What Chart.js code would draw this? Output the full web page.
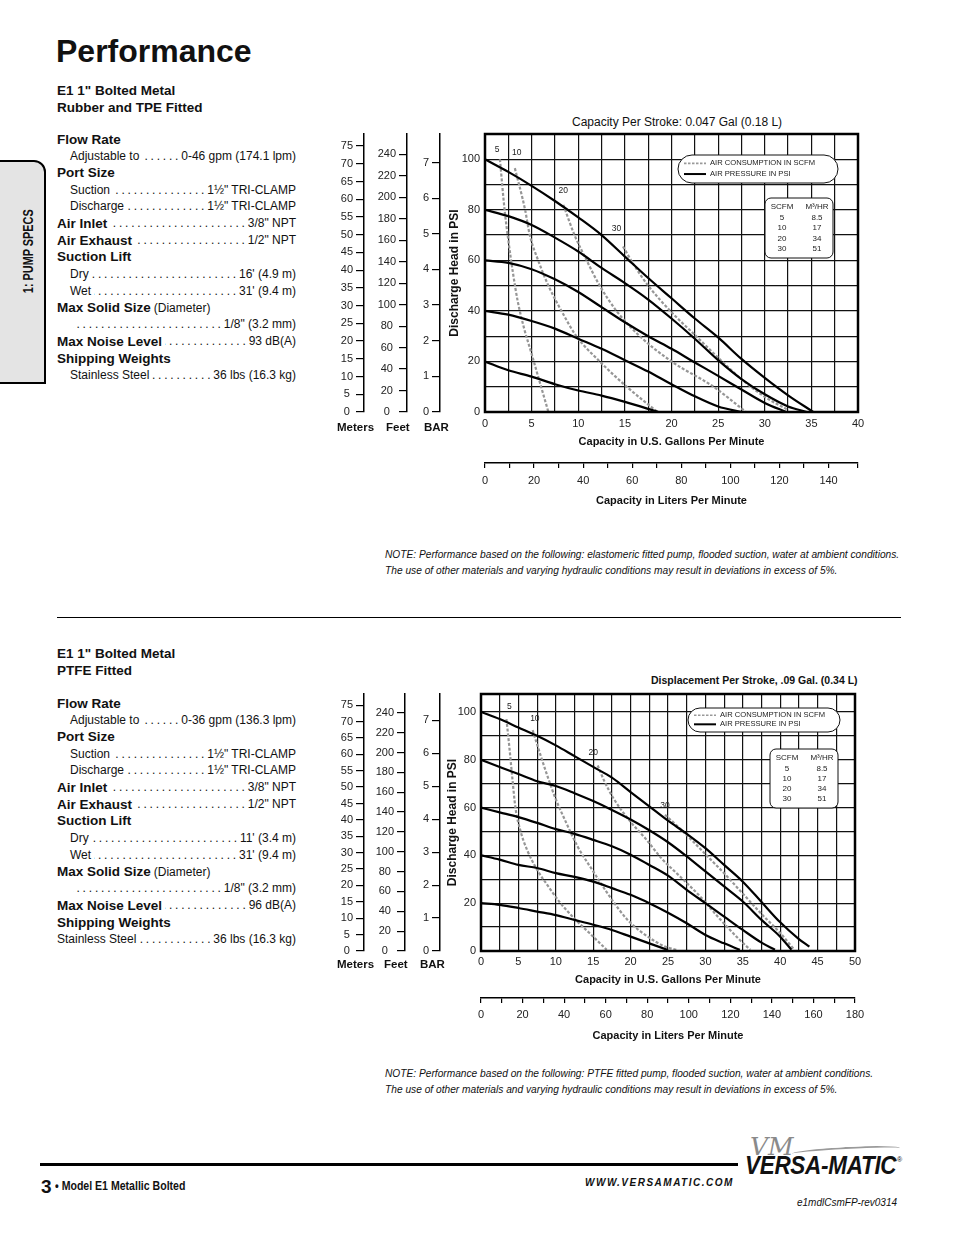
<!DOCTYPE html>
<html>
<head>
<meta charset="utf-8">
<script src="https://cdn.jsdelivr.net/npm/chart.js@4.4.1/dist/chart.umd.min.js"></script>
<style>
  body { margin: 0; background: #fff; font-family: "Liberation Sans", Arial, sans-serif; color: #111; }
  #page { position: relative; width: 954px; height: 1235px; overflow: hidden; background: #fff; }
  .t { position: absolute; white-space: nowrap; line-height: 1; }
  .b { font-weight: bold; }
  .row { position: absolute; display: flex; align-items: center; height: 17px; font-size: 12px; white-space: nowrap; }
  .row .lab { font-size: 12px; }
  .row .hd { font-size: 13.5px; font-weight: bold; }
  .row .sfx { font-size: 12px; margin-left: 3px; }
  .row .lead { flex: 1; overflow: hidden; direction: rtl; text-align: right; letter-spacing: 2.8px; font-size: 12px; margin-left: 3px; }
  .note { position: absolute; left: 385px; font-size: 10.2px; font-style: italic; white-space: nowrap; line-height: 16px; }
  canvas { position: absolute; }
</style>
</head>
<body>
<div id="page">
  <div class="t b" style="left:56px;top:35px;font-size:32px;">Performance</div>

  <div style="position:absolute;left:-4px;top:160px;width:46px;height:220px;border:2px solid #000;border-radius:0 12px 0 0;background:#e4e4e4;"></div>
  <div class="t b" style="left:-32px;top:244px;width:120px;text-align:center;font-size:14.5px;transform:rotate(-90deg) scaleX(0.75);">1: PUMP SPECS</div>

  <div class="t b" style="left:57px;top:82px;font-size:13.5px;line-height:17px;">E1 1" Bolted Metal<br>Rubber and TPE Fitted</div>
  <div id="specs1"></div>

  <div class="t" style="left:572px;top:116px;font-size:12px;">Capacity Per Stroke: 0.047 Gal (0.18 L)</div>
  <canvas id="c1" width="540" height="400" style="left:330px;top:112px;"></canvas>
  <div class="t b" style="left:337px;top:422px;font-size:11.5px;">Meters</div>
  <div class="t b" style="left:386px;top:422px;font-size:11.5px;">Feet</div>
  <div class="t b" style="left:424px;top:422px;font-size:11.5px;">BAR</div>

  <div class="note" style="top:547px;">NOTE: Performance based on the following: elastomeric fitted pump, flooded suction, water at ambient conditions.<br>The use of other materials and varying hydraulic conditions may result in deviations in excess of 5%.</div>

  <div style="position:absolute;left:57px;top:617px;width:844px;height:1px;background:#000;"></div>

  <div class="t b" style="left:57px;top:645px;font-size:13.5px;line-height:17px;">E1 1" Bolted Metal<br>PTFE Fitted</div>
  <div id="specs2"></div>

  <div class="t b" style="left:651px;top:675px;font-size:10.5px;">Displacement Per Stroke, .09 Gal. (0.34 L)</div>
  <canvas id="c2" width="540" height="375" style="left:330px;top:672px;"></canvas>
  <div class="t b" style="left:337px;top:959px;font-size:11.5px;">Meters</div>
  <div class="t b" style="left:384px;top:959px;font-size:11.5px;">Feet</div>
  <div class="t b" style="left:420px;top:959px;font-size:11.5px;">BAR</div>

  <div class="note" style="top:1066px;">NOTE: Performance based on the following: PTFE fitted pump, flooded suction, water at ambient conditions.<br>The use of other materials and varying hydraulic conditions may result in deviations in excess of 5%.</div>

  <div style="position:absolute;left:40px;top:1163px;width:698px;height:3px;background:#000;"></div>
  <div class="t b" style="left:41px;top:1177px;font-size:19px;">3</div>
  <div class="t b" style="left:55px;top:1180px;font-size:12px;transform:scaleX(0.88);transform-origin:left;">• Model E1 Metallic Bolted</div>
  <div class="t b" style="left:585px;top:1178px;font-size:10px;font-style:italic;letter-spacing:1.5px;">WWW.VERSAMATIC.COM</div>
  <div class="t" style="left:750px;top:1134px;font-size:25px;font-style:italic;color:#8a8a8a;font-family:'DejaVu Serif',serif;">VM</div>
  <div style="position:absolute;left:792px;top:1147px;width:108px;height:6px;border-top:2px solid #9a9a9a;border-radius:60% 60% 0 0;transform:rotate(-3deg);"></div>
  <div class="t b" style="left:745px;top:1153px;font-size:22.5px;font-style:italic;transform:scaleY(1.15);transform-origin:top;letter-spacing:-0.3px;">VERSA-MATIC</div>
  <div class="t" style="left:897px;top:1156px;font-size:7px;">®</div>
  <div class="t" style="left:797px;top:1198px;font-size:10px;font-style:italic;">e1mdlCsmFP-rev0314</div>
</div>

<script>
// ---- chart 1: rubber / TPE fitted  [gpm, psi]
const psi100A = [[0,100],[2.5,95],[5,89.5],[7.5,83.5],[10,77],[12.5,70],[15,61.5],[17.5,53],[20,45],[22.5,37],[25,29.5],[27.5,21],[30,13.5],[32.5,6.6],[35.2,0]];
const psi80A  = [[0,80],[2.5,77.5],[5,74],[7.5,69],[10,63.5],[12.5,57],[15,51],[17.5,44.5],[20,37],[22.5,29],[25,20.5],[27.5,13],[30,7],[32.5,2.2],[34.5,0]];
const psi60A  = [[0,60],[2.5,59],[5,56.5],[7.5,52.5],[10,47.5],[12.5,41.5],[15,35.5],[17.5,30],[20,25],[22.5,19.6],[25,14.3],[27.5,8.9],[30,3.6],[32.3,0]];
const psi40A  = [[0,40],[2.5,38.5],[5,36],[7.5,33],[10,29],[12.5,25],[15,20.5],[17.5,16],[20,11],[22.5,6.2],[25,2.2],[27.5,0]];
const psi20A  = [[0,20],[2.5,16.5],[5,14],[7.5,11],[10,8.5],[12.5,6.5],[15,4],[18.6,0]];
const scfm5A  = [[1.6,100],[2.1,80],[2.5,68],[3,55],[3.5,44],[4.2,33],[5,23],[5.7,14],[6.8,0]];
const scfm10A = [[3.2,96.5],[4.3,80],[4.8,70],[5.7,60],[6.8,50],[8.2,40],[9.8,30],[12.3,20],[15.2,10],[18.5,0]];
const scfm20A = [[8.4,82],[9.6,70],[10.9,60],[12.3,50],[14.1,40],[16.6,30],[20,20],[24.5,10],[28,0]];
const scfm30A = [[14.8,65.5],[16,58],[17.5,50],[20,39.5],[22.5,30.5],[25,21.5],[27.5,13],[30,6],[32.5,0.8]];
const scfmTagsA = [['5',1.3,103.7],['10',3.4,102.5],['20',8.4,87.5],['30',14.1,72.4]];

// ---- chart 2: PTFE fitted  [gpm, psi]
const psi100B = [[0,100],[2.5,97],[5,93.5],[7.5,90],[10,86],[12.5,81.5],[15,77],[17.5,72.5],[20,66.5],[22.5,60.5],[25,54.5],[27.5,49],[30,43],[32.5,36],[35,29],[37.5,20.5],[40,12],[42.5,5],[43.9,1.8]];
const psi80B  = [[0,80],[2.5,77],[5,74],[7.5,71],[10,69],[12.5,66],[15,62.7],[17.5,59],[20,55],[22.5,50.5],[25,45.5],[27.5,39.6],[30,33.3],[32.5,27],[35,20.7],[37.5,13],[40,6],[41.5,0.5]];
const psi60B  = [[0,60],[2.5,58],[5,56],[7.5,53.6],[10,51],[12.5,49],[15,46.5],[17.5,43.8],[20,40.3],[22.5,36],[25,31.5],[27.5,25.6],[30,20],[32.5,14.4],[35,8.8],[37.5,3.5],[39.3,0.5]];
const psi40B  = [[0,40],[2.5,38.2],[5,36],[7.5,34.7],[10,32.6],[12.5,31],[15,29],[17.5,26.3],[20,23.5],[22.5,20],[25,16],[27.5,11.6],[30,6.7],[32.5,3.2],[34.6,0.5]];
const psi20B  = [[0,20],[2.5,19.3],[5,18],[7.5,16.5],[10,15],[12.5,13],[15,11],[17.5,8.8],[20,6],[22.5,3.2],[25,0.4]];
const scfm5B  = [[3.4,97],[3.8,85],[4.2,72],[4.6,60],[5.3,50],[6.2,42],[7.5,34],[9,27],[10.5,20.5],[12.5,13.5],[14.5,7.5],[16.8,0.5]];
const scfm10B = [[6.9,92.4],[8,81.5],[8.9,73],[10,63.5],[11.4,53.6],[12.9,43.8],[15,33.3],[17.2,22.8],[19.6,13],[22.3,6],[24.5,2],[26.3,0.3]];
const scfm20B = [[15.6,77.6],[16.5,71],[17.8,63.4],[20,54],[22,47],[24.2,38.5],[26.6,31.2],[29.3,22.8],[31.9,13.5],[34.6,4.6],[36,0.5]];
const scfm30B = [[24.6,57],[26,53],[27.5,48.5],[30,40.5],[32.5,32.5],[35,24],[37.5,15.5],[40,7.5],[41.9,0.5]];
const scfmTagsB = [['5',3.8,102.2],['10',7.2,97],['20',15,83],['30',24.6,61]];

// tick labels
const psiLabels = [0,20,40,60,80,100];
const gpmLabelsA = [0,5,10,15,20,25,30,35,40];
const gpmLabelsB = [0,5,10,15,20,25,30,35,40,45,50];
const lpmLabelsA = [0,20,40,60,80,100,120,140];
const lpmLabelsB = [0,20,40,60,80,100,120,140,160,180];
const meterLabels = [0,5,10,15,20,25,30,35,40,45,50,55,60,65,70,75];
const feetLabels = [0,20,40,60,80,100,120,140,160,180,200,220,240];
const barLabels = [0,1,2,3,4,5,6,7];

// air table
const scfmCol = ['5','10','20','30'];
const m3hrCol = ['8.5','17','34','51'];

// spec sheet rows
const specs1 = [
  ['h','Flow Rate'], ['i','Adjustable to','0-46 gpm (174.1 lpm)'], ['h','Port Size'],
  ['i','Suction','1½" TRI-CLAMP'], ['i','Discharge','1½" TRI-CLAMP'], ['b','Air Inlet','3/8" NPT'],
  ['b','Air Exhaust','1/2" NPT'], ['h','Suction Lift'], ['i','Dry',"16' (4.9 m)"], ['i','Wet',"31' (9.4 m)"],
  ['hs','Max Solid Size','(Diameter)'], ['i','','1/8" (3.2 mm)'], ['b','Max Noise Level','93 dB(A)'],
  ['h','Shipping Weights'], ['i','Stainless Steel','36 lbs (16.3 kg)']
];
const specs2 = [
  ['h','Flow Rate'], ['i','Adjustable to','0-36 gpm (136.3 lpm)'], ['h','Port Size'],
  ['i','Suction','1½" TRI-CLAMP'], ['i','Discharge','1½" TRI-CLAMP'], ['b','Air Inlet','3/8" NPT'],
  ['b','Air Exhaust','1/2" NPT'], ['h','Suction Lift'], ['i','Dry',"11' (3.4 m)"], ['i','Wet',"31' (9.4 m)"],
  ['hs','Max Solid Size','(Diameter)'], ['i','','1/8" (3.2 mm)'], ['b','Max Noise Level','96 dB(A)'],
  ['h','Shipping Weights'], ['f','Stainless Steel','36 lbs (16.3 kg)']
];

function buildSpecs(id, rows, y0) {
  const box = document.getElementById(id);
  const dots = '.'.repeat(70);
  rows.forEach((r, i) => {
    const d = document.createElement('div');
    d.className = 'row';
    d.style.top = (y0 + i * 16.85 - 8.5) + 'px';
    const indent = (r[0] === 'i') ? 13 : 0;
    d.style.left = (57 + indent) + 'px';
    d.style.width = (239 - indent) + 'px';
    if (r[0] === 'h') d.innerHTML = '<span class="hd">' + r[1] + '</span>';
    else if (r[0] === 'hs') d.innerHTML = '<span class="hd">' + r[1] + '</span><span class="sfx">' + r[2] + '</span>';
    else {
      const cls = r[0] === 'b' ? 'hd' : 'lab';
      d.innerHTML = '<span class="' + cls + '">' + r[1] + '</span><span class="lead">' + dots + '</span><span class="lab">' + r[2] + '</span>';
    }
    box.appendChild(d);
  });
}
buildSpecs('specs1', specs1, 139);
buildSpecs('specs2', specs2, 703);

Chart.defaults.font.family = '"Liberation Sans", Arial, sans-serif';
Chart.defaults.color = '#222';

// extra drawing: curve tags, legend pill, air table, frame
const decoCfg = {
  c1: {tags: scfmTagsA, pill: {dx: 193, dy: 21, w: 160, h: 28}, table: {dx: 280, dy: 64, w: 68, h: 60}},
  c2: {tags: scfmTagsB, pill: {dx: 207, dy: 14, w: 152, h: 24}, table: {dx: 289, dy: 55, w: 68, h: 59}}
};

function rrect(ctx, x, y, w, h, r) {
  ctx.beginPath();
  ctx.moveTo(x + r, y);
  ctx.arcTo(x + w, y, x + w, y + h, r);
  ctx.arcTo(x + w, y + h, x, y + h, r);
  ctx.arcTo(x, y + h, x, y, r);
  ctx.arcTo(x, y, x + w, y, r);
  ctx.closePath();
}

const deco = {
  id: 'deco',
  afterDatasetsDraw(chart) {
    const cfg = decoCfg[chart.canvas.id];
    const ctx = chart.ctx, a = chart.chartArea;
    const X = chart.scales.x, Y = chart.scales.y;
    ctx.save();
    ctx.fillStyle = '#222';
    ctx.font = '8.5px "Liberation Sans", Arial';
    ctx.textAlign = 'center';
    ctx.textBaseline = 'middle';
    cfg.tags.forEach(t => ctx.fillText(t[0], X.getPixelForValue(t[1]), Y.getPixelForValue(t[2])));

    // legend pill
    const p = cfg.pill, px = a.left + p.dx, py = a.top + p.dy;
    rrect(ctx, px, py, p.w, p.h, p.h / 2);
    ctx.fillStyle = '#fff'; ctx.fill();
    ctx.lineWidth = 1; ctx.strokeStyle = '#111'; ctx.stroke();
    const l1 = py + p.h * 0.3, l2 = py + p.h * 0.68;
    ctx.setLineDash([2.5, 1.5]); ctx.strokeStyle = '#999'; ctx.lineWidth = 1.6;
    ctx.beginPath(); ctx.moveTo(px + 6, l1); ctx.lineTo(px + 28, l1); ctx.stroke();
    ctx.setLineDash([]); ctx.strokeStyle = '#000'; ctx.lineWidth = 2;
    ctx.beginPath(); ctx.moveTo(px + 6, l2); ctx.lineTo(px + 28, l2); ctx.stroke();
    ctx.fillStyle = '#222'; ctx.textAlign = 'left'; ctx.font = '7.6px "Liberation Sans", Arial';
    ctx.fillText('AIR CONSUMPTION IN SCFM', px + 32, l1);
    ctx.fillText('AIR PRESSURE IN PSI', px + 32, l2);

    // air table
    const tb = cfg.table, tx = a.left + tb.dx, ty = a.top + tb.dy;
    rrect(ctx, tx, ty, tb.w, tb.h, 6);
    ctx.fillStyle = '#fff'; ctx.fill();
    ctx.lineWidth = 1; ctx.strokeStyle = '#111'; ctx.stroke();
    ctx.fillStyle = '#222'; ctx.textAlign = 'center'; ctx.font = '8px "Liberation Sans", Arial';
    const c1 = tx + 17, c2 = tx + 52, rh = (tb.h - 8) / 5;
    ctx.fillText('SCFM', c1, ty + 4 + rh * 0.5);
    ctx.fillText('M³/HR', c2, ty + 4 + rh * 0.5);
    scfmCol.forEach((s, i) => {
      ctx.fillText(s, c1, ty + 4 + rh * (i + 1.5));
      ctx.fillText(m3hrCol[i], c2, ty + 4 + rh * (i + 1.5));
    });
    ctx.restore();
  },
  afterDraw(chart) {
    const ctx = chart.ctx, a = chart.chartArea;
    ctx.save();
    ctx.lineWidth = 2.5; ctx.strokeStyle = '#000';
    ctx.strokeRect(a.left, a.top, a.right - a.left, a.bottom - a.top);
    ctx.restore();
  }
};

function curve(pts, dashed) {
  return {
    data: pts.map(p => ({x: p[0], y: p[1]})),
    xAxisID: 'x', yAxisID: 'y',
    showLine: true,
    borderColor: dashed ? '#969696' : '#000',
    borderWidth: dashed ? 2.2 : 2.2,
    borderDash: dashed ? [3, 1.8] : [],
    pointRadius: 0,
    cubicInterpolationMode: 'monotone',
    fill: false
  };
}

function sideAxis(max, step, labels, width) {
  return {
    type: 'linear', position: 'left', min: 0, max: max,
    afterFit: s => { s.width = width; },
    border: {display: true, color: '#000', width: 1.5},
    grid: {drawOnChartArea: false, drawTicks: true, tickLength: 8, color: '#000', lineWidth: 1.2},
    ticks: {stepSize: step, includeBounds: false, autoSkip: false, padding: 3, crossAlign: 'center',
            font: {size: 11}, callback: v => labels.includes(v) ? v : ''}
  };
}

function makeChart(id, g) {
  new Chart(document.getElementById(id), {
    type: 'scatter',
    data: {datasets: [
      curve(g.p100), curve(g.p80), curve(g.p60), curve(g.p40), curve(g.p20),
      curve(g.s5, true), curve(g.s10, true), curve(g.s20, true), curve(g.s30, true)
    ]},
    options: {
      responsive: false,
      animation: false,
      layout: {padding: g.pad},
      plugins: {legend: {display: false}, tooltip: {enabled: false}},
      scales: {
        x: {
          type: 'linear', position: 'bottom', min: 0, max: g.gpmMax,
          afterFit: s => { s.height = g.xH; },
          border: {display: false},
          grid: {color: '#111', lineWidth: 1.2, drawTicks: false},
          ticks: {stepSize: 2.5, autoSkip: false, maxRotation: 0, padding: g.xPad, font: {size: 11},
                  callback: v => g.gpmLabels.includes(v) ? v : ''},
          title: {display: true, text: 'Capacity in U.S. Gallons Per Minute', color: '#111',
                  font: {size: 11, weight: 'bold'}, padding: {top: 0, bottom: g.xTitlePad}}
        },
        lpm: {
          type: 'linear', position: 'bottom', min: 0, max: g.lpmMax,
          afterFit: s => { s.height = 47; },
          border: {display: true, color: '#000', width: 1.5},
          grid: {drawOnChartArea: false, tickLength: 5, color: '#000', lineWidth: 1.2},
          ticks: {stepSize: 10, autoSkip: false, maxRotation: 0, padding: g.lpmPad, font: {size: 11},
                  callback: v => g.lpmLabels.includes(v) ? v : ''},
          title: {display: true, text: 'Capacity in Liters Per Minute', color: '#111',
                  font: {size: 11, weight: 'bold'}, padding: {top: 0, bottom: 2.4}}
        },
        y: {
          type: 'linear', position: 'left', min: 0, max: g.psiMax,
          afterFit: s => { s.width = g.psiW; },
          border: {display: false},
          grid: {color: '#111', lineWidth: 1.2, drawTicks: false},
          ticks: {stepSize: 10, includeBounds: false, autoSkip: false, padding: 5, font: {size: 11},
                  callback: v => psiLabels.includes(v) ? v : ''},
          title: {display: true, text: 'Discharge Head in PSI', color: '#111',
                  font: {size: 12, weight: 'bold'}, padding: {top: g.psiTitlePad, bottom: 0}}
        },
        bar: sideAxis(7.8, 1, barLabels, g.barW),
        feet: sideAxis(259, 20, feetLabels, g.feetW),
        meters: sideAxis(78.4, 5, meterLabels, 34)
      }
    },
    plugins: [deco]
  });
}

makeChart('c1', {
  p100: psi100A, p80: psi80A, p60: psi60A, p40: psi40A, p20: psi20A,
  s5: scfm5A, s10: scfm10A, s20: scfm20A, s30: scfm30A,
  gpmMax: 40, lpmMax: 152, psiMax: 110, gpmLabels: gpmLabelsA, lpmLabels: lpmLabelsA,
  pad: {top: 22, right: 12, left: 0, bottom: 2},
  xH: 51, xPad: 5, xTitlePad: 14.4, lpmPad: 6,
  psiW: 45, psiTitlePad: 7.8, barW: 33, feetW: 43
});

makeChart('c2', {
  p100: psi100B, p80: psi80B, p60: psi60B, p40: psi40B, p20: psi20B,
  s5: scfm5B, s10: scfm10B, s20: scfm20B, s30: scfm30B,
  gpmMax: 50, lpmMax: 180, psiMax: 107.5, gpmLabels: gpmLabelsB, lpmLabels: lpmLabelsB,
  pad: {top: 22, right: 15, left: 0, bottom: 2},
  xH: 47, xPad: 4, xTitlePad: 11.4, lpmPad: 5,
  psiW: 41, psiTitlePad: 5.8, barW: 35, feetW: 41
});
</script>
</body>
</html>
